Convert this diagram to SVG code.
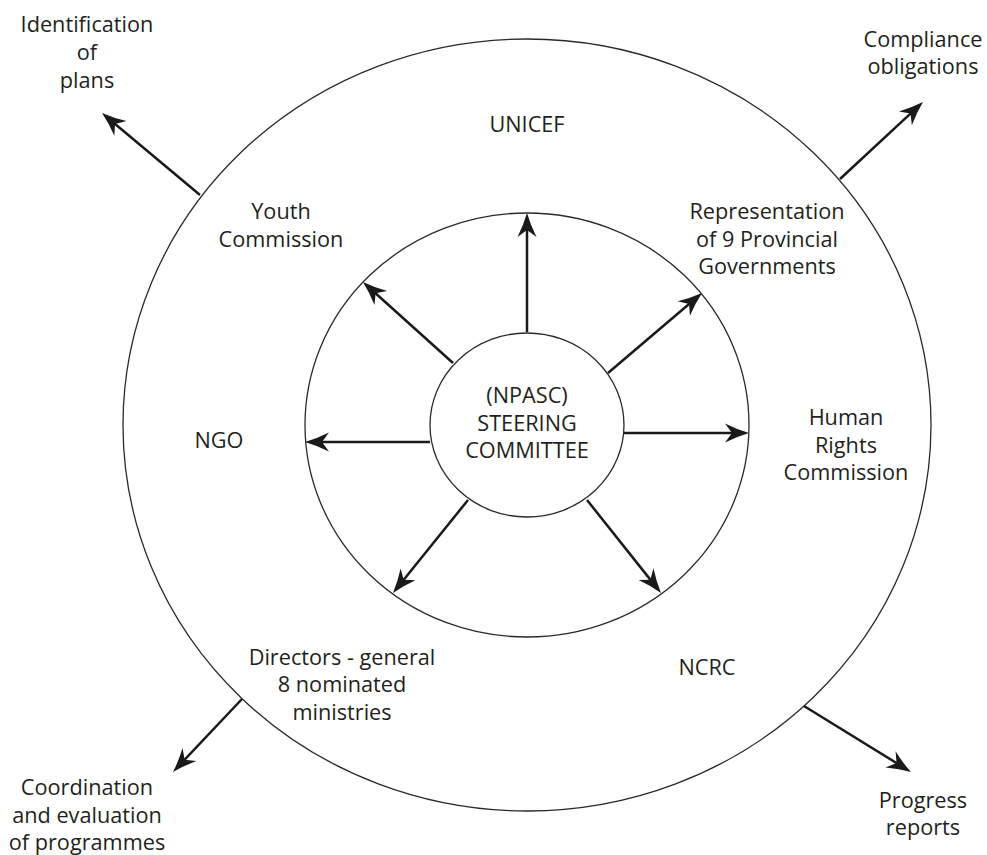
<svg xmlns="http://www.w3.org/2000/svg" width="987" height="855" viewBox="0 0 987 855">
  <style>
    .ring { fill: none; stroke: #2a2a2a; stroke-width: 1.3; }
    .lbl { font-family: "Open Sans", "Noto Sans", "Liberation Sans", sans-serif; font-size: 21.7px; fill: #231f20; text-anchor: middle; }
    .arrow { fill: none; stroke: #1a1a1a; stroke-width: 2.5; marker-end: url(#head); }
  </style>
  <defs>
    <!-- stealth-style head; line ends 12px before the tip -->
    <marker id="head" viewBox="-14 -11 28 22" refX="0" refY="0" markerWidth="28" markerHeight="22" markerUnits="userSpaceOnUse" orient="auto">
      <path d="M12,0 Q0,-3.5 -12,-9.5 L-5,0 L-12,9.5 Q0,3.5 12,0 Z" fill="#1a1a1a"/>
    </marker>
  </defs>
  <rect width="987" height="855" fill="#ffffff"/>

  <g id="outer-ring">
    <ellipse class="ring" cx="527" cy="425" rx="404" ry="386"/>
  </g>
  <g id="middle-ring">
    <ellipse class="ring" cx="527" cy="425" rx="222" ry="212"/>
  </g>

  <g id="connectors">
    <!-- committee to middle ring -->
    <line class="arrow" x1="527" y1="332" x2="527" y2="225"/>
    <line class="arrow" x1="453" y1="363" x2="371.9" y2="290"/>
    <line class="arrow" x1="608" y1="373" x2="692.9" y2="300.8"/>
    <line class="arrow" x1="430" y1="442" x2="317" y2="442"/>
    <line class="arrow" x1="624" y1="433" x2="737" y2="433"/>
    <line class="arrow" x1="468" y1="500" x2="400.5" y2="583.7"/>
    <line class="arrow" x1="587" y1="500" x2="653.5" y2="583.6"/>
    <!-- outer ring to outcomes -->
    <line class="arrow" x1="200" y1="195" x2="111.2" y2="120.7"/>
    <line class="arrow" x1="840" y1="179" x2="914.2" y2="110.2"/>
    <line class="arrow" x1="242" y1="699" x2="181.2" y2="763.3"/>
    <line class="arrow" x1="804" y1="706" x2="900.8" y2="765.7"/>
  </g>

  <g id="steering-committee">
    <ellipse cx="527" cy="425" rx="97" ry="92" fill="#ffffff" stroke="#2a2a2a" stroke-width="1.3"/>
    <text class="lbl" x="527" y="403">(NPASC)</text>
    <text class="lbl" x="527" y="431">STEERING</text>
    <text class="lbl" x="527" y="458">COMMITTEE</text>
  </g>

  <g id="unicef">
    <text class="lbl" x="527" y="132">UNICEF</text>
  </g>
  <g id="youth-commission">
    <text class="lbl" x="281" y="219">Youth</text>
    <text class="lbl" x="281" y="247">Commission</text>
  </g>
  <g id="provincial-governments">
    <text class="lbl" x="767" y="219">Representation</text>
    <text class="lbl" x="767" y="247">of 9 Provincial</text>
    <text class="lbl" x="767" y="274">Governments</text>
  </g>
  <g id="ngo">
    <text class="lbl" x="219" y="448">NGO</text>
  </g>
  <g id="human-rights-commission">
    <text class="lbl" x="846" y="425">Human</text>
    <text class="lbl" x="846" y="453">Rights</text>
    <text class="lbl" x="846" y="480">Commission</text>
  </g>
  <g id="directors-general">
    <text class="lbl" x="342" y="665">Directors - general</text>
    <text class="lbl" x="342" y="692">8 nominated</text>
    <text class="lbl" x="342" y="720">ministries</text>
  </g>
  <g id="ncrc">
    <text class="lbl" x="707" y="675">NCRC</text>
  </g>

  <g id="identification-of-plans">
    <text class="lbl" x="87" y="32">Identification</text>
    <text class="lbl" x="87" y="60">of</text>
    <text class="lbl" x="87" y="88">plans</text>
  </g>
  <g id="compliance-obligations">
    <text class="lbl" x="923" y="47">Compliance</text>
    <text class="lbl" x="923" y="74">obligations</text>
  </g>
  <g id="coordination-evaluation">
    <text class="lbl" x="87" y="795">Coordination</text>
    <text class="lbl" x="87" y="823">and evaluation</text>
    <text class="lbl" x="87" y="850">of programmes</text>
  </g>
  <g id="progress-reports">
    <text class="lbl" x="923" y="808">Progress</text>
    <text class="lbl" x="923" y="835">reports</text>
  </g>
</svg>
